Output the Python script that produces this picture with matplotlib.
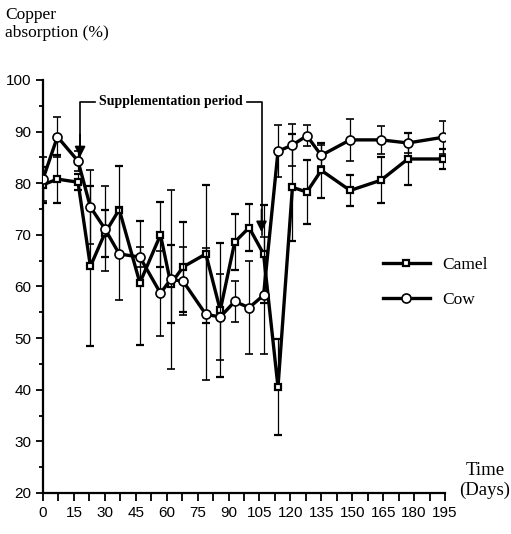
import matplotlib
matplotlib.use("Agg")
import matplotlib.pyplot as plt
from matplotlib.lines import Line2D
from matplotlib.ticker import MultipleLocator

# values (days, mean % absorption, +/- error)
days = [0, 7, 17, 23, 30, 37, 47, 57, 62, 68, 79, 86, 93, 100, 107, 114,
        121, 128, 135, 149, 164, 177, 194]
camel = [79.7, 80.8, 80.2, 63.9, 70.3, 74.9, 60.7, 70.0, 60.5, 63.8, 66.3,
         55.4, 68.6, 71.4, 66.3, 40.5, 79.2, 78.3, 82.5, 78.6, 80.6, 84.7, 84.7]
camel_err = [3.5, 4.6, 1.5, 15.5, 4.5, 8.5, 12.0, 6.3, 7.6, 8.7, 13.4, 13.0,
             5.5, 4.6, 9.5, 9.3, 10.3, 6.2, 5.3, 3.0, 4.5, 5.0, 2.0]
cow = [80.8, 89.0, 84.3, 75.4, 71.2, 66.3, 65.7, 58.7, 61.4, 61.0, 54.6,
       54.1, 57.1, 55.9, 58.3, 86.2, 87.4, 89.2, 85.4, 88.4, 88.4, 87.8, 88.9]
cow_err = [4.2, 3.9, 2.0, 7.2, 8.2, 9.0, 2.0, 8.2, 17.3, 6.6, 12.8, 8.3,
           4.0, 9.0, 11.3, 5.0, 4.0, 2.0, 2.0, 4.0, 2.7, 2.0, 3.2]

x_ticks = list(range(0, 196, 15))
y_ticks = list(range(20, 101, 10))
supp_start, supp_end = 18, 106

tick_font = ['Liberation Sans Narrow', 'Liberation Sans', 'DejaVu Sans']
serif_font = ['Liberation Serif', 'DejaVu Serif']

camel_style = dict(color='black', lw=2.4, marker='s', ms=5, mfc='white',
                   mec='black', mew=1.6)
cow_style = dict(color='black', lw=2.4, marker='o', ms=6.5, mfc='white',
                 mec='black', mew=1.2)
err_style = dict(ecolor='black', elinewidth=0.9, capsize=2.8, capthick=1.5)

fig = plt.figure(figsize=(5.11, 5.34), dpi=100)
ax = fig.add_axes([0.0841, 0.0768, 0.7867, 0.7734])

ax.errorbar(days, camel, yerr=camel_err, zorder=3, **camel_style, **err_style)
ax.errorbar(days, cow, yerr=cow_err, zorder=4, **cow_style, **err_style)

ax.set_xlim(0, 195)
ax.set_ylim(20, 100)
ax.set_xticks(x_ticks)
ax.set_yticks(y_ticks)
ax.xaxis.set_minor_locator(MultipleLocator(7.5))
ax.yaxis.set_minor_locator(MultipleLocator(5))
for side in ['top', 'right']:
    ax.spines[side].set_visible(False)
for side in ['left', 'bottom']:
    ax.spines[side].set_linewidth(1.6)
ax.tick_params(axis='both', which='both', direction='out', width=1.3)
ax.tick_params(axis='x', which='both', length=6)
ax.tick_params(axis='y', which='major', length=5)
ax.tick_params(axis='y', which='minor', length=3)
for lab in ax.get_xticklabels() + ax.get_yticklabels():
    lab.set_family(tick_font)
    lab.set_fontsize(11)

# supplementation bracket
ax.plot([supp_start, supp_start, 25], [84.5, 95.8, 95.8], color='black',
        lw=1.2, clip_on=False)
ax.plot([99, supp_end, supp_end], [95.8, 95.8, 70], color='black',
        lw=1.2, clip_on=False)
ax.annotate('', xy=(supp_start, 84.5), xytext=(supp_start, 90),
            arrowprops=dict(arrowstyle='-|>', color='black', lw=1.2,
                            mutation_scale=16))
ax.annotate('', xy=(supp_end, 70), xytext=(supp_end, 75.5),
            arrowprops=dict(arrowstyle='-|>', color='black', lw=1.2,
                            mutation_scale=16))
ax.text(62, 95.8, 'Supplementation period', ha='center', va='center',
        family=serif_font, fontsize=10, fontweight='semibold')

fig.text(0.01, 0.955, 'Copper\nabsorption (%)', ha='left', va='center',
         family=serif_font, fontsize=12.5, linespacing=1.15)
fig.text(0.949, 0.101, 'Time\n(Days)', ha='center', va='center',
         family=serif_font, fontsize=13.5, linespacing=1.2)

handles = [Line2D([], [], **camel_style), Line2D([], [], **cow_style)]
ax.legend(handles, ['Camel', 'Cow'], loc='center left',
          bbox_to_anchor=(0.7495, 0.471), bbox_transform=fig.transFigure,
          frameon=False, prop={'family': serif_font, 'size': 12.5},
          handlelength=2.7, labelspacing=1.1, handletextpad=0.7,
          borderpad=0, borderaxespad=0)

fig.savefig('out.png', dpi=100)
